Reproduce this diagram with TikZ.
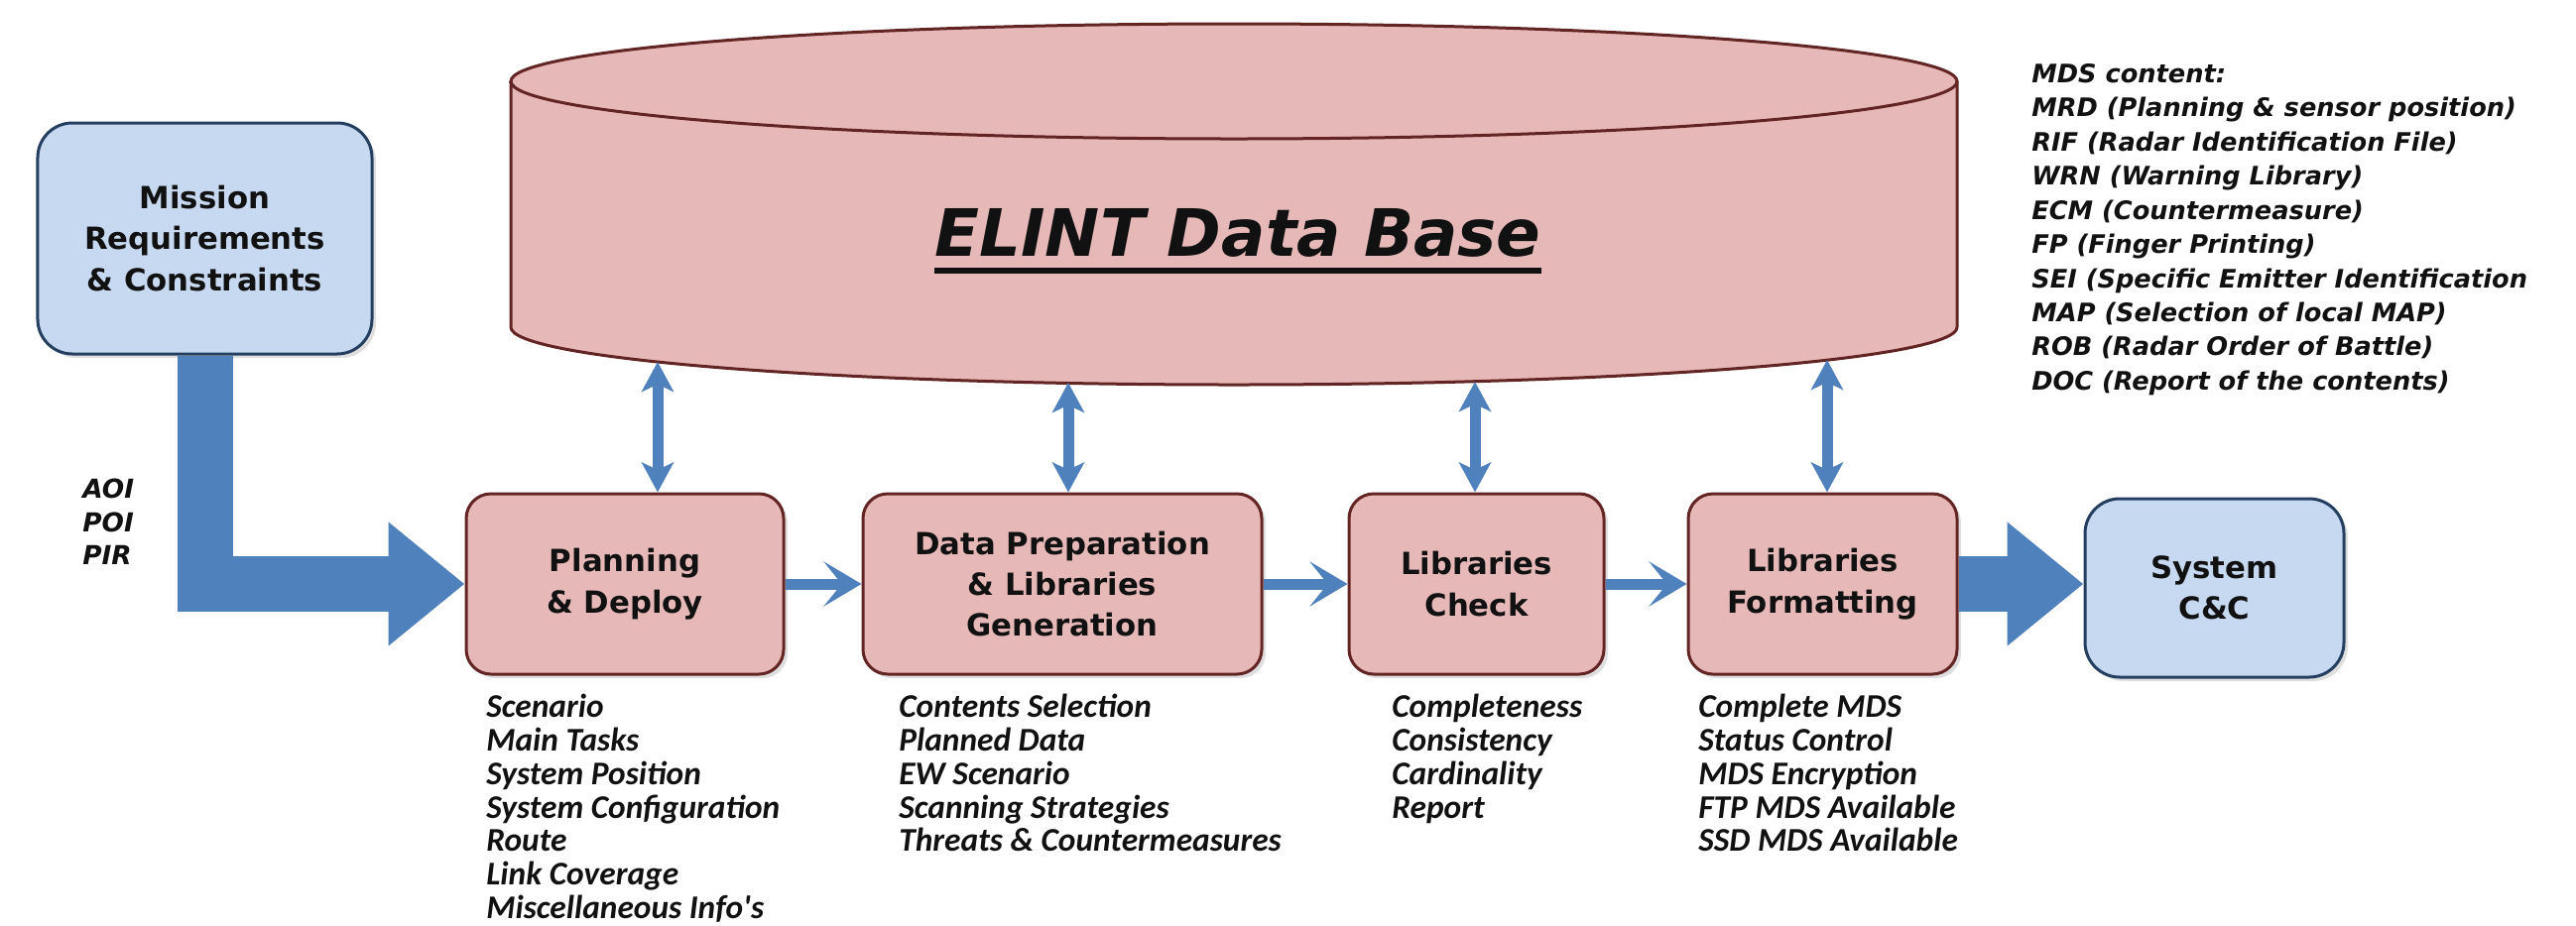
\documentclass[tikz,border=0pt]{standalone}
\usepackage{fontspec}
\setmainfont{DejaVu Sans}
\newfontfamily\listfont{Carlito}
\usetikzlibrary{arrows.meta,shadows}

\definecolor{dbpink}{HTML}{E6B9B8}
\definecolor{dbedge}{HTML}{632523}
\definecolor{reqblue}{HTML}{C6D9F1}
\definecolor{reqedge}{HTML}{243F60}
\definecolor{flowblue}{HTML}{4F81BD}
\definecolor{ink}{HTML}{111111}

\tikzset{
  stage/.style={draw=dbedge, fill=dbpink, line width=0.6mm, rounded corners=5mm,
    align=center, text=ink, font=\fontsize{17.5}{23.5}\selectfont\bfseries,
    drop shadow={opacity=0.25, shadow xshift=0.8mm, shadow yshift=-0.8mm}},
  outside/.style={stage, draw=reqedge, fill=reqblue, rounded corners=7mm},
  notes/.style={anchor=north west, inner sep=0pt, align=left, text=ink,
    font=\listfont\fontsize{19}{19.2}\selectfont\bfseries\itshape},
  mdsnotes/.style={notes, font=\fontsize{14.6}{19.6}\selectfont\bfseries\itshape},
  dblink/.style={draw=flowblue, line width=2.2mm,
    {Stealth[length=6mm,width=6.4mm,inset=1.5mm]}-{Stealth[length=6mm,width=6.4mm,inset=1.5mm]}},
  flowlink/.style={draw=flowblue, line width=2.2mm, -{Stealth[length=7.6mm,width=9mm,inset=3.6mm]}},
  bigflow/.style={draw=flowblue, line width=11.2mm, -{Triangle[length=15.4mm,width=24mm]}},
}

\begin{document}
\begin{tikzpicture}[x=0.2mm, y=-0.2mm]
  \useasboundingbox (0,0) rectangle (2597,933);

  % data base
  \filldraw[draw=dbedge, fill=dbpink, line width=0.6mm] (515,82) -- (515,330)
    arc[start angle=180, end angle=360, x radius=145.8mm, y radius=11.6mm] -- (1973,82)
    arc[start angle=0, end angle=180, x radius=145.8mm, y radius=11.6mm] -- cycle;
  \draw[dbedge, line width=0.6mm] (515,82)
    arc[start angle=180, end angle=360, x radius=145.8mm, y radius=11.6mm]; % rim
  \node[inner sep=0pt, anchor=base, text=ink, font=\fontsize{37.5}{45}\selectfont\bfseries\itshape]
    (dbname) at (1248,258) {ELINT Data Base};
  \draw[ink, line width=1.2mm] ([yshift=-3mm]dbname.base west) -- ([yshift=-3mm]dbname.base east);

  % boxes
  \node[outside, minimum width=67.4mm, minimum height=46.6mm] (mission) at (206.5,240.5) {Mission\\Requirements\\\& Constraints};
  \node[stage, minimum width=64mm, minimum height=36.4mm] (plan) at (630,589) {Planning\\\& Deploy};
  \node[stage, minimum width=80.4mm, minimum height=36.4mm] (prep) at (1071,589) {Data Preparation\\\& Libraries\\Generation};
  \node[stage, minimum width=51.4mm, minimum height=36.4mm] (check) at (1488.5,589) {Libraries\\Check};
  \node[stage, minimum width=54.2mm, minimum height=36.4mm] (format) at (1837.5,589) {Libraries\\Formatting};
  \node[outside, minimum width=52.2mm, minimum height=36mm] (sys) at (2232.5,593) {System\\C\&C};

  % links to the data base
  \coordinate (dbA) at (663,365);
  \coordinate (dbB) at (1077,386);
  \coordinate (dbC) at (1487,385);
  \coordinate (dbD) at (1842,363);
  \draw[dblink] (dbA) -- (dbA |- plan.north);
  \draw[dblink] (dbB) -- (dbB |- prep.north);
  \draw[dblink] (dbC) -- (dbC |- check.north);
  \draw[dblink] (dbD) -- (dbD |- format.north);

  % flow
  \draw[bigflow] (mission.south) |- (plan.west);
  \draw[flowlink] (plan) -- (prep);
  \draw[flowlink] (prep) -- (check);
  \draw[flowlink] (check) -- (format);
  \draw[bigflow] (format.east) -- (format.east -| sys.west);

  % notes
  \node[notes, font=\fontsize{15}{19}\selectfont\bfseries\itshape] (aoi) at (83,483) {AOI\\POI\\PIR};
  \node[mdsnotes] (mds) at (2048,64) {MDS content:\\MRD (Planning \& sensor position)\\RIF (Radar Identification File)\\WRN (Warning Library)\\ECM (Countermeasure)\\FP (Finger Printing)\\SEI (Specific Emitter Identification\\MAP (Selection of local MAP)\\ROB (Radar Order of Battle)\\DOC (Report of the contents)};
  \node[notes] (planlist) at (490,700) {Scenario\\Main Tasks\\System Position\\System Configuration\\Route\\Link Coverage\\Miscellaneous Info's};
  \node[notes] (preplist) at (906,700) {Contents Selection\\Planned Data\\EW Scenario\\Scanning Strategies\\Threats \& Countermeasures};
  \node[notes] (checklist) at (1403,700) {Completeness\\Consistency\\Cardinality\\Report};
  \node[notes] (fmtlist) at (1712,700) {Complete MDS\\Status Control\\MDS Encryption\\FTP MDS Available\\SSD MDS Available};
\end{tikzpicture}
\end{document}
